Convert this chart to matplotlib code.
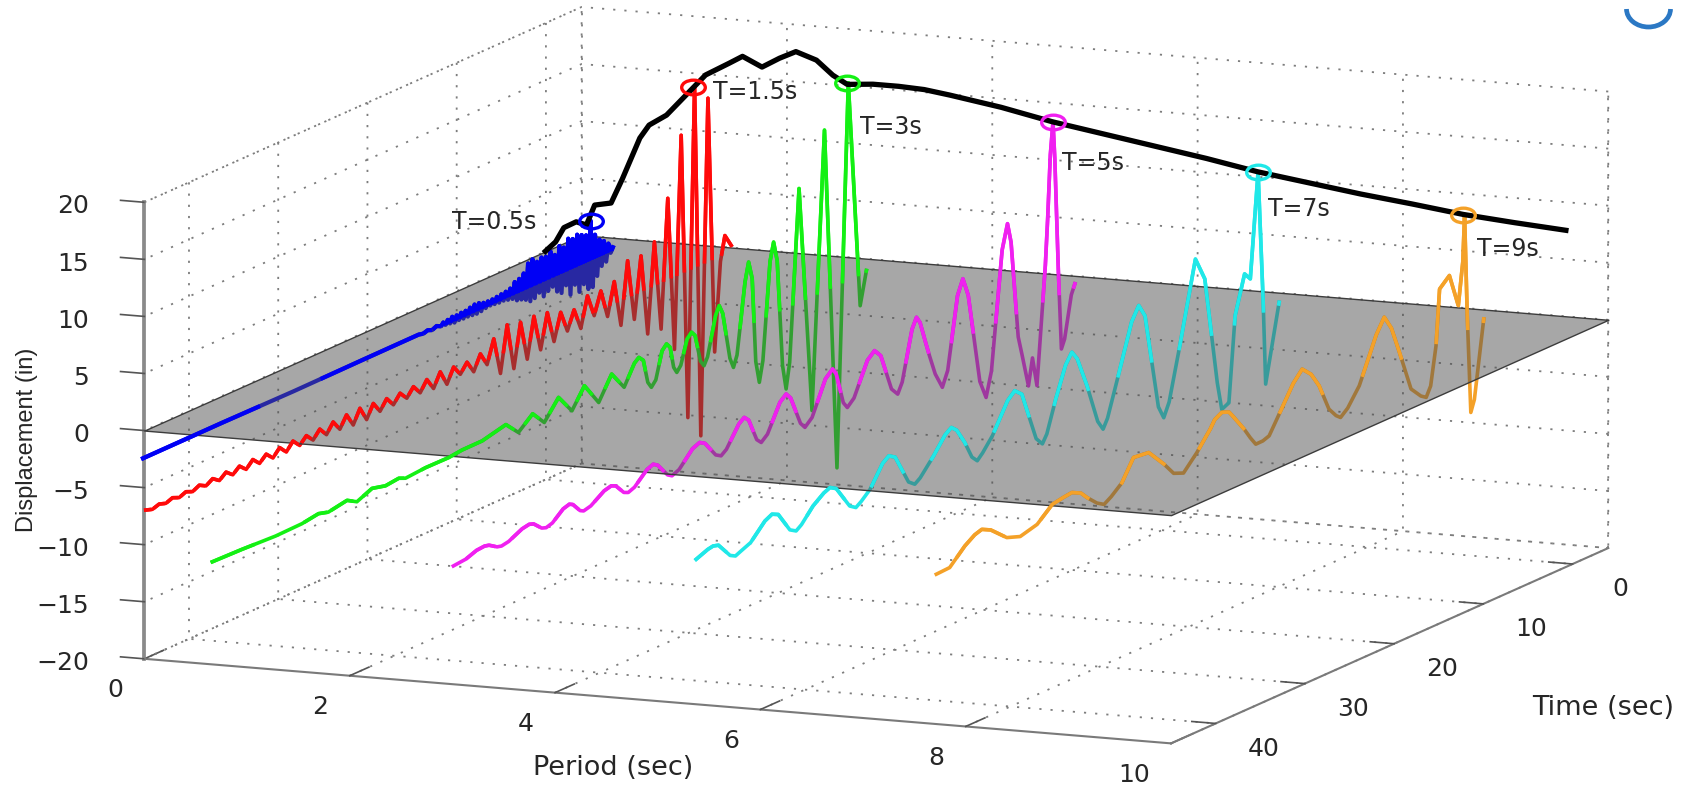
import numpy as np
import matplotlib
matplotlib.use('Agg')
import matplotlib.pyplot as plt
from matplotlib.path import Path
from matplotlib.patches import PathPatch
from matplotlib.transforms import Affine2D
from mpl_toolkits.mplot3d.art3d import Poly3DCollection

plt.rcParams['font.family'] = ['DejaVu Sans']
plt.rcParams['grid.linestyle'] = (0, (1.2, 5))
plt.rcParams['grid.color'] = '#7d7d7d'
plt.rcParams['grid.linewidth'] = 1.3

period_ticks = [0, 2, 4, 6, 8, 10]
time_ticks = [0, 10, 20, 30, 40]
disp_ticks = [-20, -15, -10, -5, 0, 5, 10, 15, 20]

spectrum_period = [0.06, 0.16, 0.24, 0.36, 0.46, 0.54, 0.70, 0.81, 0.98, 1.07, 1.24, 1.43, 1.62, 1.85, 1.98, 2.17,
                   2.34, 2.50, 2.70, 2.86, 3.00, 3.25, 3.50, 3.75, 4.0, 4.5, 5.0, 5.5, 6.0, 6.5, 7.0, 7.5, 8.0, 8.5, 9.0, 9.5, 10.0]
spectrum_disp = [0.3, 1.2, 2.5, 3.1, 2.9, 4.7, 5.0, 7.2, 10.9, 12.1, 13.1, 15.0, 16.9, 18.1, 18.8, 18.0,
                 18.9, 19.6, 19.0, 17.8, 17.1, 17.3, 17.3, 17.2, 16.9, 16.2, 15.3, 14.6, 13.9, 13.2, 12.4, 11.8, 11.2, 10.7, 10.15, 9.8, 9.5]
spectrum_time = 0.75

t_blue = [50.9, 42, 34, 26, 20, 19.5, 19, 18.5, 18, 17.5, 17.25, 17, 16.75, 16.5, 16.25, 16, 15.75, 15.5, 15.25, 15,
          14.75, 14.5, 14.25, 14, 13.75, 13.5, 13.25, 13, 12.75, 12.5, 12.25, 12, 11.75, 11.5, 11.25, 11, 10.75, 10.5, 10.25, 10,
          9.75, 9.5, 9.25, 9, 8.75, 8.5, 8.25, 8, 7.75, 7.5, 7.25, 7, 6.75, 6.5, 6.25, 6, 5.75, 5.5, 5.25, 5, 4.75, 4.5, 4.25, 4,
          3.75, 3.5, 3.25, 3, 2.75, 2.5, 2.25, 2, 1.75, 1.5, 1.25, 1, 0.75, 0.5, 0.25, 0, -0.25, -0.5, -0.75, -1, -1.25, -1.5, -1.75]
z_blue = [0, .02, -.02, .03, .05, -.05, .08, -.08, .1, -.1, .15, -.15, .2, -.2, .3, -.3, .25, -.25, .3, -.3,
          .3, -.3, .4, -.35, .5, -.4, .45, -.35, .3, -.25, .25, -.2, .25, -.25, .3, -.3, .35, -.3, .4, -.4,
          .5, -.5, .9, -.8, 1.0, -.9, 1.3, -1.1, 2.0, -1.4, 2.2, -1.3, 1.8, -1.0, 2.0, -1.5, 1.9, -1.2, 2.2, -1.0, 1.7, -1.6, 2.3, -1.9,
          2.0, -1.4, 2.6, -2.4, 2.4, -1.7, 2.6, -2.5, 2.4, -2.0, 2.2, -2.6, 3.3, -2.6, 1.9, -1.8, 1.3, -1.1, 1.0, -.9, .6, -.3, .1]

t_red = [62.1, 61.35, 60.6, 59.85, 59.1, 58.35, 57.6, 56.85, 56.1, 55.35, 54.6, 53.85, 53.1, 52.35, 51.6, 50.85, 50.1, 49.35,
         48.6, 47.85, 47.1, 46.35, 45.6, 44.85, 44.1, 43.35, 42.6, 41.85, 41.1, 40.35, 39.6, 38.85, 38.1, 37.35, 36.6, 35.85,
         35.1, 34.35, 33.6, 32.85, 32.1, 31.35, 30.6, 29.85, 29.1, 28.35, 27.6, 26.85, 26.1, 25.35, 24.6, 23.85, 23.1, 22.35,
         21.6, 20.85, 20.1, 19.35, 18.6, 17.85, 17.1, 16.35, 15.6, 14.85, 14.1, 13.35, 12.6, 11.85, 11.1, 10.35, 9.6, 8.85,
         8.1, 7.35, 6.6, 5.85, 5.1, 4.35, 3.6, 2.85, 2.1, 1.35, 0.6, -0.1, -0.9, -1.65, -2.3, -2.8, -3.5]
z_red = [.12, -.08, .12, -.08, .15, -.1, .15, -.1, .2, -.12, .25, -.18, .3, -.2, .3, -.25, .35, -.25,
         .3, -.3, .35, -.3, .4, -.25, .35, -.3, .4, -.35, .5, -.4, .6, -.55, .65, -.6, .55, -.4,
         .45, -.35, .4, -.3, .45, -.35, .55, -.5, .7, -.65, .6, -.3, .5, -.6, .7, -.5, 1.5, -1.8,
         2.2, -1.9, 1.9, -1.6, 1.9, -1.3, 1.7, -1.1, 1.2, -.7, .9, -1.0, 1.6, -.4, 1.5, -1.0, 1.8, -2.3,
         3.1, -2.3, 3.0, -4.1, 3.7, -4.2, 7.0, -6.5, 12.0, -13.0, 15.8, -15.1, 14.2, -8.3, -.6, 1.5, .4]

t_green = [71.9, 68.6, 64.8, 61.85, 60, 58.9, 56.8, 55.7, 54, 52.5, 51, 50.25, 48, 45.4, 43.9, 41.66, 39, 37.6, 36, 34.7,
           33.1, 31.6, 30.2, 28.6, 27.15, 25.75, 24.6, 24.1, 23.6, 23.1, 22.7, 22.2, 21.5, 21, 20.6, 20.2, 19.85, 19.4, 18.7, 18.2, 17.8,
           17.2, 16.8, 16.4, 15.5, 15.1, 14.7, 13.9, 13.5, 13.1, 12.2, 11.8, 11.4, 11, 10.6, 10.2, 9.4, 9, 8.6, 8, 7.6, 7.2, 6.15, 4.7,
           3.3, 1.9, 0.63, -0.7, -1.4]
z_green = [.12, .05, -.1, -.05, .18, -.07, .23, -.28, .3, 0, .14, -.12, .02, 0, .14, .15, .65, -.53, .55, -.67,
           .97, -.73, .98, -1.05, .94, -.71, 1.0, 1.33, .9, -1.2, -1.78, -1.3, 1.0, 1.43, 1.0, -.9, -1.47, -1.0, 1.05, 1.48, 1.05,
           -1.4, -1.95, -1.3, 2.0, 2.73, 1.9, -2.3, -3.25, -2.3, 3.8, 5.39, 3.8, -3.6, -5.57, -3.8, 4.6, 6.16, 4.4, -5.0, -7.2, -5.0, 9.86, -10.1,
           13.98, -16.1, 17.2, -2.8, .04]

t_magenta = [67.9, 66.5, 65.3, 64.4, 63.9, 63.0, 62.5, 61.7, 60.2, 59.4, 58.9, 58, 57.5, 56.8, 55.6, 54.9, 54.5, 53.7, 53.3, 52.5, 51, 50.2,
             49.7, 48.8, 48.3, 47.6, 46.2, 45.5, 45, 43.9, 43.4, 42.6, 41.1, 40.3, 39.7, 38.5, 37.9, 37.3, 35.9, 35.3, 34.8, 33.9, 33.4,
             32.7, 31.3, 30.6, 30.1, 29, 28.5, 27.7, 26.2, 25.4, 25, 24.2, 23.75, 23, 21.5, 20.7, 20, 18.8, 18.1, 17.6, 16.5, 16,
             15.6, 14.9, 14.55, 13.9, 13.4, 13.1, 12.5, 11.4, 10.8, 10.2, 8.9, 8.2, 7.6, 6.4, 5.8, 5.4, 4.6, 4.15, 3.45, 3, 2.5,
             1.56, 1.3, 1.0, 0.7, 0.5, 0.1, -0.24, -0.6, -1.35, -1.75]
z_magenta = [-.16, -.05, .30, .36, .26, -.2, -.3, -.18, .40, .52, .38, -.30, -.44, -.27, .54, .71, .54, -.27, -.44, -.28, .52, .68,
             .5, -.39, -.57, -.35, .71, .93, .67, -.56, -.82, -.55, .75, 1.02, .73, -.7, -.99, -.63, 1.11, 1.47, 1.05, -.97, -1.39,
             -.91, 1.4, 1.88, 1.35, -1.25, -1.78, -1.19, 1.67, 2.26, 1.68, -1.12, -1.7, -1.13, 1.65, 2.22, 1.53, -1.81, -2.5, -1.62, 2.62, 3.5,
             2.9, .7, -.36, -2.2, -3.1, -3.65, -2.38, 3.79, 5.06, 3.41, -4.6, -6.25, -4.15, 6.04, 8.14, 6.37, -2.2, -4.0, -6.9, -4.6, -7.2,
             3.0, 7.0, 12.5, 15.3, 12.0, 2.0, -4.95, -4.2, -.6, .24]

t_cyan = [63.7, 62.4, 61.8, 61.2, 59.9, 59.3, 58.7, 57.6, 56, 55.2, 54.5, 53.2, 52.5, 51.9, 50.6, 49.4, 48.7, 48, 46.5, 45.8, 45.2, 44.2,
          42.8, 42.1, 41.4, 39.9, 39.2, 38.6, 37.1, 35.8, 35.1, 34.5, 33.6, 32.8, 32.2, 31.6, 30.5, 28.8, 28, 27.2, 25.6, 24.9, 24.4, 23.4,
          22.3, 21.6, 21, 19.9, 18.7, 18.1, 17.6, 16.4, 14.9, 14.1, 13.4, 11.9, 11.3, 10.7, 9.5, 7.75, 6.7, 5.3, 4.8, 4, 3.3, 2.24, 1.6,
          0.73, 0.17, -0.12, -1.63]
z_cyan = [.44, .85, .94, .8, -.55, -.81, -.6, -.23, 1.1, 1.42, 1.15, -.65, -.99, -.65, .54, 1.25, 1.49, 1.15, -.9, -1.28, -.95, -.23,
          1.55, 1.96, 1.6, -1.1, -1.54, -1.2, .2, 1.6, 2.0, 1.55, .16, -1.4, -1.93, -1.45, -.33, 2.15, 2.74, 2.15, -2.3, -3.0, -2.3, .41,
          3.0, 3.88, 3.1, .35, -3.2, -4.09, -3.3, 0, 4.2, 5.35, 4.2, -4.3, -5.46, -4.3, .22, 7.2, 5.1, -4.5, -7.0, -6.7, .7, 3.98, 3.32,
          12.4, 1.07, -6.5, .14]

t_orange = [59.8, 58.3, 56.6, 55.5, 54.7, 53.7, 51.9, 50.4, 48.5, 46.8, 45.6, 44.6, 43.6, 42.9, 41.8, 41, 40.2, 39, 37.7, 36, 34.3, 33.2, 32.1, 30.6, 29.1,
            28.6, 27.8, 27, 26.6, 25.3, 24.6, 24, 23.2, 22.5, 21.2, 19.8, 18.8, 17.8, 16.9, 15.8, 15, 14.5, 13.7, 12.4, 10.5, 9.6, 8.8, 7.9, 6.6, 5.5, 4.9, 4.4, 3.8,
            3.4, 2.3, 1.3, 0.8, 0.6, 0.3, -0.1, -0.5, -1.55]
z_orange = [-.75, -.69, .61, 1.2, 1.4, 1.0, -.3, -.73, -.33, .83, 1.0, 1.1, .7, .06, -.8, -1.2, -.8, 0, 1.76, 1.6, 0, -1.2, -1.56, -.29, 1.25,
            1.9, 2.26, 2.0, 1.53, -.09, -1.1, -1.86, -1.85, -1.65, .1, 2.0, 2.9, 2.1, .78, -1.65, -2.5, -2.84, -2.3, -.79, 3.0, 4.24, 3.0, .57, -3.1, -4.1, -4.43, -3.6, -.29,
            4.54, 5.34, 2.35, 6.0, 10.07, 1.13, -7.5, -6.5, .19]

series = [(0.5, t_blue, z_blue, '#0000F5', 'T=0.5s', (417, 205), 3.27, 3.0),
          (1.5, t_red, z_red, '#FF0A0A', 'T=1.5s', (658, 85), 15.8, 2.6),
          (3.0, t_green, z_green, '#14F014', 'T=3s', (793, 117), 17.2, 2.6),
          (5.0, t_magenta, z_magenta, '#F020F0', 'T=5s', (980, 150), 15.3, 2.6),
          (7.0, t_cyan, z_cyan, '#20E8E8', 'T=7s', (1170, 193), 12.4, 2.6),
          (9.0, t_orange, z_orange, '#F4A128', 'T=9s', (1362, 230), 10.07, 2.6)]


def above_plane(t, z):
    """Split at z=0 so that the part above the plane can be drawn over it."""
    tt, zz = [t[0]], [z[0]]
    for i in range(1, len(t)):
        if z[i - 1] * z[i] < 0:
            f = z[i - 1] / (z[i - 1] - z[i])
            tt.append(t[i - 1] + f * (t[i] - t[i - 1]))
            zz.append(0.0)
        tt.append(t[i])
        zz.append(z[i])
    tt = np.array(tt)
    zz = np.array(zz, dtype=float)
    zz[zz < 0] = np.nan
    return tt, zz


fig = plt.figure(figsize=(17, 7.85), dpi=100, facecolor='white')
S = 1593.0
ax = fig.add_axes([58.3 / 1700, -408.2 / 785, S / 1700, S / 785], projection='3d',
                  proj_type='ortho', computed_zorder=False)
ax.set_box_aspect((1030.5, 1022, 429), zoom=1)
ax.view_init(elev=11.06, azim=-66.76)
ax.set_xlim(0, 10, view_margin=0)
ax.set_ylim(45, -4, view_margin=0)
ax.set_zlim(-20, 20, view_margin=0)
ax.set_xticks(period_ticks)
ax.set_yticks(time_ticks)
ax.set_zticks(disp_ticks)
ax.patch.set_alpha(0)

for axis, factor in ((ax.xaxis, .55), (ax.yaxis, .29), (ax.zaxis, .29)):
    axis.set_pane_color((1, 1, 1, 1))
    axis.pane.set_edgecolor((1, 1, 1, 0))
    axis.line.set_color('#7a7a7a')
    axis.line.set_linewidth(1.5)
    axis._axinfo['tick']['inward_factor'] = 0
    axis._axinfo['tick']['outward_factor'] = factor
    axis._axinfo['tick']['color'] = '#555555'
    axis._axinfo['tick']['linewidth'] = {True: 1.2, False: 0.8}
ax.zaxis.line.set_color('#8a8a8a')
ax.zaxis.line.set_linewidth(2.7)
ax.zaxis._axinfo['juggled'] = (1, 2, 0)

ax.tick_params(axis='both', labelsize=18, labelcolor='#262626', color='#555555')
ax.tick_params(axis='x', pad=21)
ax.tick_params(axis='y', pad=20)
ax.tick_params(axis='z', pad=14.5)
plt.setp(ax.get_xticklabels(), ha='right', va='center')
plt.setp(ax.get_yticklabels(), va='center')
plt.setp(ax.get_zticklabels(), ha='right', va='center')

# dotted box edges behind the chart
xl, yl, zl = (0, 10), (45, -4), (-20, 20)
dot = dict(color='#7d7d7d', ls=(0, (1.2, 5)), lw=1.3, zorder=1)
ax.plot([0, 0], [-4, -4], zl, **dot)
ax.plot([10, 10], [-4, -4], zl, **dot)
ax.plot(xl, [-4, -4], [-20, -20], **dot)
ax.plot([0, 0], yl, [20, 20], **dot)
ax.plot([0, 0], yl, [-20, -20], **dot)

for P, t, z, col, name, pos, peak, lw in series:
    ax.plot(np.full(len(t), P), t, z, color=col, lw=lw, zorder=2, solid_joinstyle='round')

plane = Poly3DCollection([[(0, 45, 0), (10, 45, 0), (10, -4, 0), (0, -4, 0)]],
                         facecolors=[(0.314, 0.314, 0.314, 0.5)], edgecolors='#3c3c3c', linewidths=1.0)
plane.set_zorder(3)
ax.add_collection3d(plane)

for P, t, z, col, name, pos, peak, lw in series:
    tt, zz = above_plane(t, z)
    ax.plot(np.full(len(tt), P), tt, zz, color=col, lw=lw, zorder=4, solid_joinstyle='round')

ax.plot(spectrum_period, np.full(len(spectrum_period), spectrum_time), spectrum_disp, color='black', lw=3.8, zorder=5)

ring = Path.unit_circle().transformed(Affine2D().scale(1, 0.62))
for P, t, z, col, name, pos, peak, lw in series:
    ax.plot([P], [spectrum_time], [peak], ls='none', marker=ring, ms=17, mfc='none', mec=col, mew=2.4, zorder=6)
    fig.text(pos[0] / 1568, 1 - pos[1] / 724, name, fontsize=17, color='#262626', ha='left', va='center')

ax.xaxis.set_rotate_label(False)
ax.yaxis.set_rotate_label(False)
ax.set_xlabel('Period (sec)', fontsize=19.5, color='#262626', labelpad=40, rotation=0)
ax.set_ylabel('Time (sec)', fontsize=19.5, color='#262626', labelpad=62, rotation=0)
ax.yaxis._axinfo['label']['ha'] = 'left'
ax.yaxis._axinfo['label']['va'] = 'bottom'
ax.set_zlabel('Displacement (in)', fontsize=17, color='#262626', labelpad=27, family='Liberation Sans')

icon = Path.arc(180, 360).transformed(Affine2D().scale(22, 18).translate(1648.5, 785 - 9))
fig.add_artist(PathPatch(icon, fill=False, edgecolor='#2b78c4', lw=3.4, transform=Affine2D()))

fig.savefig('out.png', dpi=100, facecolor='white')
